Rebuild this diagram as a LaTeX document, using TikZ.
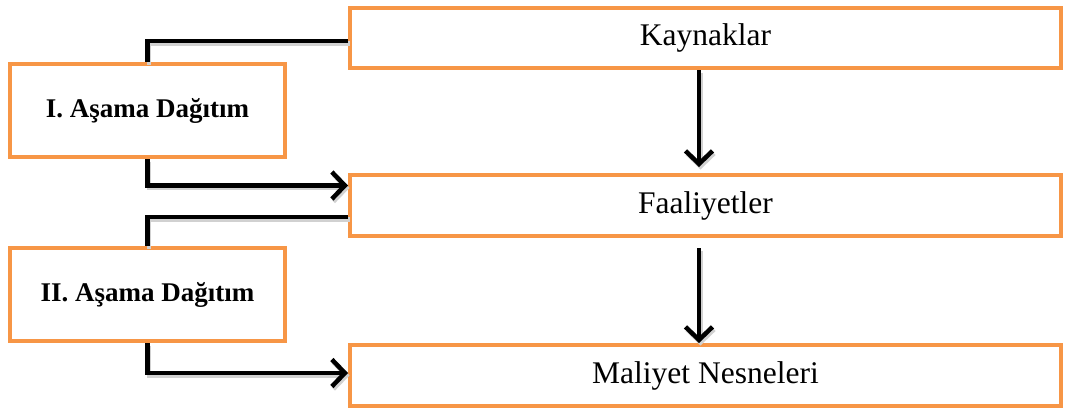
\documentclass[tikz,border=0pt]{standalone}
\usepackage{fontspec}
\setmainfont{Liberation Serif}
\usetikzlibrary{arrows.meta}
\definecolor{boxorange}{HTML}{F79646}
\begin{document}
\begin{tikzpicture}[x=1pt,y=-1pt,
  box/.style={draw=boxorange,line width=4pt,fill=white,rectangle,inner sep=0pt},
  bigbox/.style={box,minimum width=711pt,font=\fontsize{31.5}{36}\selectfont},
  stagebox/.style={box,minimum width=275pt,minimum height=93pt,font=\fontsize{27}{31}\selectfont\bfseries},
  conn/.style={line width=4.5pt,line join=miter,
    preaction={draw=black!18,line width=4.5pt,transform canvas={xshift=1.5pt,yshift=-2.5pt}}},
  tip/.style={-{Straight Barb[length=13pt,width=27pt]}}
]
\useasboundingbox (0,0) rectangle (1065,410);
\node[bigbox,minimum height=60pt] (K) at (705.5,38) {Kaynaklar};
\node[bigbox,minimum height=61pt] (F) at (705.5,205.5) {Faaliyetler};
\node[bigbox,minimum height=61pt] (M) at (705.5,375.5) {Maliyet Nesneleri};
\node[stagebox] (S1) at (147.5,110.5) {I. Aşama Dağıtım};
\node[stagebox] (S2) at (147.5,294.5) {II. Aşama Dağıtım};

\draw[conn] ([yshift=-3pt]K.west) -| (S1.north);
\draw[conn,tip] (S1.south) |- ([yshift=20pt]F.west);
\draw[conn] ([yshift=-11.5pt]F.west) -| (S2.north);
\draw[conn,tip] (S2.south) |- ([yshift=2.5pt]M.west);
\draw[conn,tip] ([xshift=-6.5pt]K.south) -- ([xshift=-6.5pt,yshift=6pt]F.north);
\draw[conn,tip] ([xshift=-6.5pt,yshift=-10pt]F.south) -- ([xshift=-6.5pt]M.north);
\end{tikzpicture}
\end{document}
